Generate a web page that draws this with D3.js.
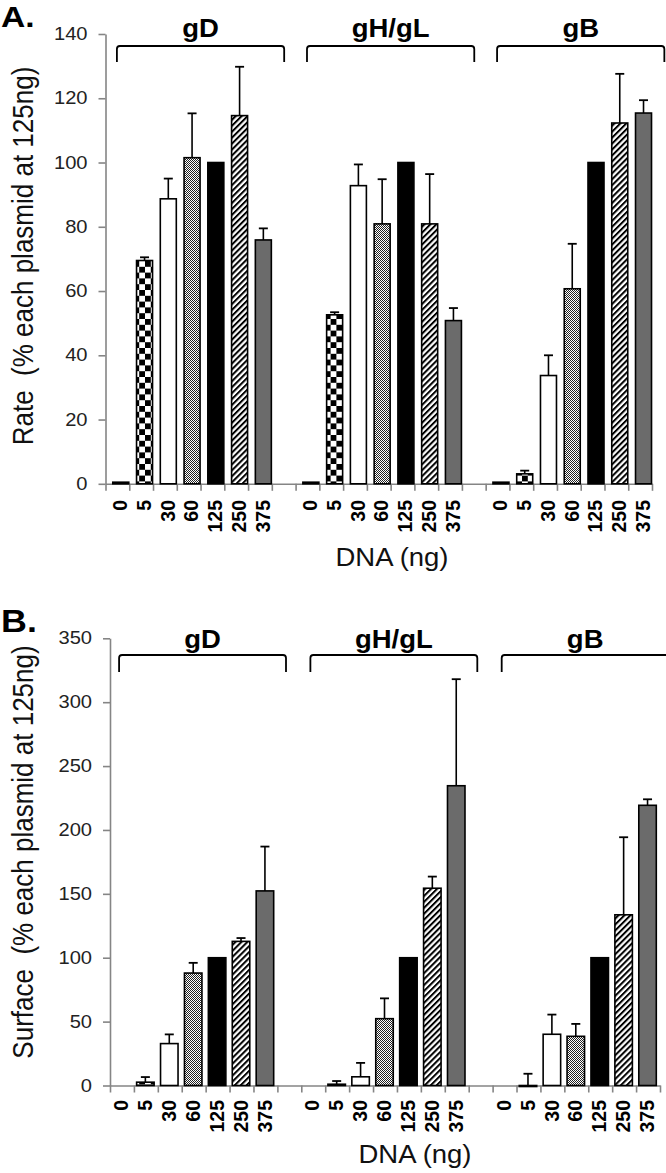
<!DOCTYPE html>
<html><head><meta charset="utf-8">
<script src="https://cdn.jsdelivr.net/npm/d3@7"></script>
<style>
html,body{margin:0;padding:0;background:#fff;}
svg{display:block;font-family:"Liberation Sans",Arial,sans-serif;}
</style></head>
<body><svg id="c" width="666" height="1173"></svg>
<script>
// ---------- data ----------
const doses = ["0","5","30","60","125","250","375"];
const groups = ["gD","gH/gL","gB"];
const rateTicks = [0,20,40,60,80,100,120,140];
const surfTicks = [0,50,100,150,200,250,300,350];

const rateGD      = [0.5, 69.5, 88.7, 101.5, 100, 114.6, 75.9];
const rateGDErr   = [0, 1.0, 6.3, 13.8, 0, 15.2, 3.6];
const rateGHGL    = [0.5, 52.6, 92.8, 80.9, 100, 80.9, 50.8];
const rateGHGLErr = [0, 0.8, 6.6, 13.9, 0, 15.5, 3.9];
const rateGB      = [0.5, 3.1, 33.7, 60.7, 100, 112.3, 115.4];
const rateGBErr   = [0, 1.0, 6.3, 14.0, 0, 15.3, 4.0];

const surfGD      = [0, 2.6, 32.8, 88.0, 100, 112.8, 152.3];
const surfGDErr   = [0, 4.0, 7.2, 8.0, 0, 2.6, 34.7];
const surfGHGL    = [0, 1.0, 6.8, 52.3, 100, 154.4, 234.6];
const surfGHGLErr = [0, 2.5, 10.9, 15.9, 0, 9.1, 83.4];
const surfGB      = [0, -0.8, 40.1, 38.5, 100, 133.6, 219.3];
const surfGBErr   = [0, 10.0, 15.4, 9.7, 0, 60.7, 4.7];

// ---------- setup ----------
const svg = d3.select("#c");
const defs = svg.append("defs");
const cs = 5.8;
const pc = defs.append("pattern").attr("id","checker").attr("patternUnits","userSpaceOnUse")
  .attr("width",2*cs).attr("height",2*cs);
pc.append("rect").attr("width",2*cs).attr("height",2*cs).attr("fill","#fff");
pc.append("rect").attr("width",cs).attr("height",cs).attr("fill","#000");
pc.append("rect").attr("x",cs).attr("y",cs).attr("width",cs).attr("height",cs).attr("fill","#000");
const pd = defs.append("pattern").attr("id","dither").attr("patternUnits","userSpaceOnUse")
  .attr("width",2).attr("height",2);
pd.append("rect").attr("width",2).attr("height",2).attr("fill","#fff");
pd.append("rect").attr("width",1).attr("height",1).attr("fill","#222");
pd.append("rect").attr("x",1).attr("y",1).attr("width",1).attr("height",1).attr("fill","#222");
const hs = 4.2;
const ph = defs.append("pattern").attr("id","hatch").attr("patternUnits","userSpaceOnUse")
  .attr("width",hs).attr("height",hs).attr("patternTransform","rotate(45)");
ph.append("rect").attr("width",hs).attr("height",hs).attr("fill","#fff");
ph.append("rect").attr("width",2.0).attr("height",hs).attr("fill","#000");

const fills = ["#fff","url(#checker)","#fff","url(#dither)","#000","url(#hatch)","#6b6b6b"];

function panel(c){
  const g = svg.append("g");
  const x = d3.scaleLinear().domain([0,23]).range([c.x0,c.x1]);
  const y = d3.scaleLinear().domain([0,c.max]).range([c.yBase,c.yTop]);

  const ya = g.append("g").attr("transform",`translate(${c.x0},0)`)
    .call(d3.axisLeft(y).tickValues(c.ticks).tickSize(7).tickSizeOuter(0).tickPadding(c.tickPad));
  ya.select(".domain").attr("stroke","#858585").attr("stroke-width",1.6);
  ya.selectAll(".tick line").attr("stroke","#858585").attr("stroke-width",1.6);
  ya.selectAll(".tick text").each(function(){
    const t=d3.select(this); const xx=+t.attr("x");
    t.attr("x",xx/1.15).attr("transform","scale(1.15,1)");
  }).attr("font-size",17.5).attr("fill","#222").attr("font-family","Liberation Sans, Arial, sans-serif");

  const xa = g.append("g").attr("transform",`translate(0,${c.yBase})`)
    .call(d3.axisBottom(x).tickValues(d3.range(24)).tickSize(7).tickSizeOuter(0).tickFormat(""));
  xa.select(".domain").attr("stroke","#858585").attr("stroke-width",1.6);
  xa.selectAll(".tick line").attr("stroke","#858585").attr("stroke-width",1.6);

  c.vals.forEach((arr,gi)=>{
    arr.forEach((v,i)=>{
      const idx = gi*8+i;
      const cx = x(idx+0.5)+c.barOff;
      if (v!==0){
        const y1=y(Math.max(v,0)), y2=y(Math.min(v,0));
        g.append("rect").attr("x",cx-c.barW/2).attr("y",y1).attr("width",c.barW)
          .attr("height",Math.max(y2-y1,0.5)).attr("fill",fills[i])
          .attr("stroke","#000").attr("stroke-width",1.6);
      }
      const e = c.errs[gi][i];
      if (e>0){
        g.append("line").attr("x1",cx).attr("x2",cx).attr("y1",y(v)).attr("y2",y(v+e))
          .attr("stroke","#000").attr("stroke-width",1.6);
        g.append("line").attr("x1",cx-4.5).attr("x2",cx+4.5).attr("y1",y(v+e)).attr("y2",y(v+e))
          .attr("stroke","#000").attr("stroke-width",1.8);
      }
    });
    doses.forEach((d,i)=>{
      const lx = x(gi*8+i+0.5)+c.labOff;
      g.append("text").attr("transform",`translate(${lx},${c.labTop}) scale(1.05,1) rotate(-90)`)
        .attr("text-anchor","end").attr("dominant-baseline","central")
        .attr("font-size",19.5).attr("font-weight","bold").attr("fill","#000").text(d);
    });
    const bx1 = x(gi*8+c.brS), bx2 = x(gi*8+c.brE);
    const by = c.brY, bd = c.brY+c.brDrop, r=3;
    g.append("path").attr("d",`M${bx1},${bd} L${bx1},${by+r} Q${bx1},${by} ${bx1+r},${by} L${bx2-r},${by} Q${bx2},${by} ${bx2},${by+r} L${bx2},${bd}`)
      .attr("fill","none").attr("stroke","#000").attr("stroke-width",1.8);
    const gx=(bx1+bx2)/2;
    g.append("text").attr("transform",`translate(${gx},${c.gLabY}) scale(1.1,1)`)
      .attr("text-anchor","middle").attr("font-size",25).attr("font-weight","bold").text(groups[gi]);
  });

  g.append("text").attr("transform",`translate(${c.titleX},${c.titleY}) scale(1.1,1) rotate(-90)`)
    .attr("text-anchor","middle").attr("dominant-baseline","central")
    .attr("font-size",26).attr("fill","#111").attr("xml:space","preserve").style("white-space","pre").text(c.title);
  g.append("text").attr("transform",`translate(${c.dnaX},${c.dnaY}) scale(1.1,1)`)
    .attr("text-anchor","middle").attr("font-size",25).attr("fill","#111").text("DNA (ng)");
  g.append("text").attr("transform",`translate(1,${c.letY}) scale(1.12,1)`)
    .attr("font-size",c.letSize).attr("font-weight","bold").text(c.letter);
}

panel({x0:105.5,x1:652,yBase:483.8,yTop:34,max:140,ticks:rateTicks,tickPad:11,
  vals:[rateGD,rateGHGL,rateGB],errs:[rateGDErr,rateGHGLErr,rateGBErr],
  barOff:3.4,barW:16,labOff:2.5,labTop:500,
  brS:0.48,brE:7.52,brY:46,brDrop:16,gLabY:37,
  title:"Rate  (% each plasmid at 125ng)",titleX:23,titleY:256,
  dnaX:392,dnaY:566,letter:"A.",letY:27,letSize:30});

panel({x0:110,x1:660,yBase:1085.5,yTop:638.3,max:350,ticks:surfTicks,tickPad:11,
  vals:[surfGD,surfGHGL,surfGB],errs:[surfGDErr,surfGHGLErr,surfGBErr],
  barOff:-0.5,barW:17.5,labOff:-1,labTop:1100,
  brS:0.38,brE:7.36,brY:655,brDrop:17,gLabY:648,
  title:"Surface  (% each plasmid at 125ng)",titleX:23,titleY:852,
  dnaX:415,dnaY:1163,letter:"B.",letY:632,letSize:32});
</script></body></html>
